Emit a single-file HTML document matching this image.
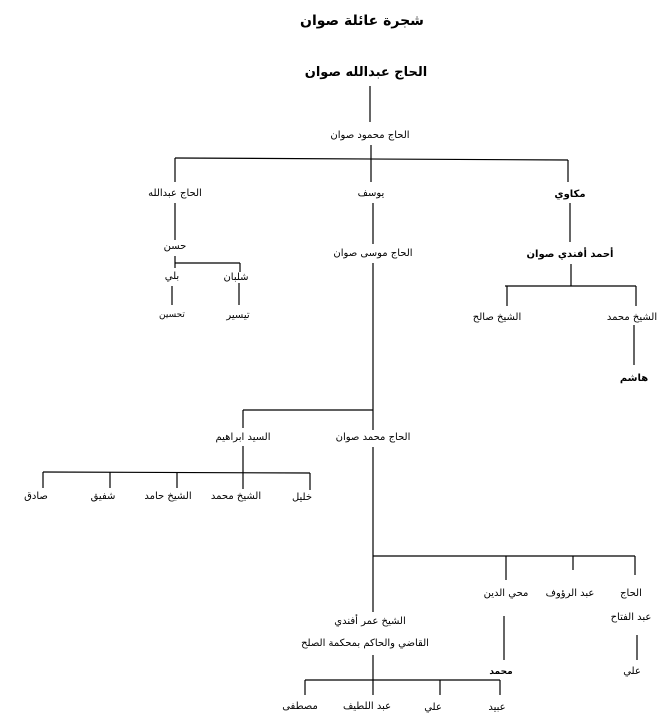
<!DOCTYPE html>
<html><head><meta charset="utf-8"><style>
html,body{margin:0;padding:0;background:#fff;}
svg{display:block}
text{font-family:"DejaVu Sans","Liberation Sans",sans-serif;font-size:10px;fill:#000;text-anchor:middle;direction:rtl;unicode-bidi:embed}
.b{font-weight:bold}
line{stroke:#000;stroke-width:1.2}
</style></head><body>
<svg width="661" height="723" viewBox="0 0 661 723" xmlns="http://www.w3.org/2000/svg">
<text x="362" y="25" class="b" style="font-size:14px">شجرة عائلة صوان</text>
<text x="366" y="76" class="b" style="font-size:13px">الحاج عبدالله صوان</text>
<line x1="370" y1="86" x2="370" y2="122"/>
<text x="370" y="138">الحاج محمود صوان</text>
<line x1="371" y1="145" x2="371" y2="158"/>
<line x1="175" y1="158" x2="568" y2="160"/>
<line x1="175" y1="158" x2="175" y2="182"/>
<line x1="371" y1="158" x2="371" y2="182"/>
<line x1="568" y1="160" x2="568" y2="182"/>
<text x="175" y="196">الحاج عبدالله</text>
<text x="371" y="196">يوسف</text>
<text x="570" y="197" class="b">مكاوي</text>
<line x1="175" y1="203" x2="175" y2="240"/>
<text x="175" y="249">حسن</text>
<line x1="175" y1="256" x2="175" y2="268"/>
<line x1="175" y1="263" x2="240" y2="263"/>
<line x1="240" y1="263" x2="240" y2="272"/>
<text x="172" y="279">بلي</text>
<text x="236" y="280">شلبان</text>
<line x1="172" y1="286" x2="172" y2="305"/>
<line x1="239" y1="283" x2="239" y2="305"/>
<text x="172" y="317" style="font-size:9px">تحسين</text>
<text x="238" y="318">تيسير</text>
<line x1="373" y1="203" x2="373" y2="244"/>
<text x="373" y="256">الحاج موسى صوان</text>
<line x1="373" y1="263" x2="373" y2="430"/>
<line x1="243" y1="410" x2="373" y2="410"/>
<line x1="243" y1="410" x2="243" y2="428"/>
<text x="373" y="440">الحاج محمد صوان</text>
<text x="243" y="440">السيد ابراهيم</text>
<line x1="243" y1="446" x2="243" y2="489"/>
<line x1="43" y1="472" x2="310" y2="473"/>
<line x1="43" y1="472" x2="43" y2="488"/>
<line x1="110" y1="472" x2="110" y2="488"/>
<line x1="177" y1="472" x2="177" y2="488"/>
<line x1="310" y1="473" x2="310" y2="490"/>
<text x="36" y="499">صادق</text>
<text x="103" y="499">شفيق</text>
<text x="168" y="499">الشيخ حامد</text>
<text x="236" y="499">الشيخ محمد</text>
<text x="302" y="500">خليل</text>
<line x1="373" y1="447" x2="373" y2="612"/>
<line x1="373" y1="556" x2="635" y2="556"/>
<line x1="506" y1="556" x2="506" y2="580"/>
<line x1="573" y1="556" x2="573" y2="570"/>
<line x1="635" y1="556" x2="635" y2="575"/>
<text x="506" y="596">محي الدين</text>
<text x="570" y="596">عبد الرؤوف</text>
<text x="631" y="596">الحاج</text>
<text x="631" y="620">عبد الفتاح</text>
<line x1="504" y1="616" x2="504" y2="660"/>
<line x1="637" y1="635" x2="637" y2="660"/>
<text x="501" y="674" class="b" style="font-size:9px">محمد</text>
<text x="632" y="674">علي</text>
<text x="370" y="624">الشيخ عمر أفندي</text>
<text x="365" y="646">القاضي والحاكم بمحكمة الصلح</text>
<line x1="373" y1="655" x2="373" y2="695"/>
<line x1="305" y1="680" x2="500" y2="680"/>
<line x1="305" y1="680" x2="305" y2="695"/>
<line x1="440" y1="680" x2="440" y2="695"/>
<line x1="500" y1="680" x2="500" y2="695"/>
<text x="300" y="709">مصطفى</text>
<text x="367" y="709">عبد اللطيف</text>
<text x="433" y="710">علي</text>
<text x="497" y="710">عبيد</text>
<line x1="570" y1="203" x2="570" y2="242"/>
<text x="570" y="257" class="b">أحمد أفندي صوان</text>
<line x1="571" y1="264" x2="571" y2="286"/>
<line x1="505" y1="286" x2="636" y2="286"/>
<line x1="507" y1="286" x2="507" y2="306"/>
<line x1="636" y1="286" x2="636" y2="306"/>
<text x="497" y="320">الشيخ صالح</text>
<text x="632" y="320">الشيخ محمد</text>
<line x1="634" y1="325" x2="634" y2="365"/>
<text x="634" y="381" class="b">هاشم</text>
</svg>
</body></html>
